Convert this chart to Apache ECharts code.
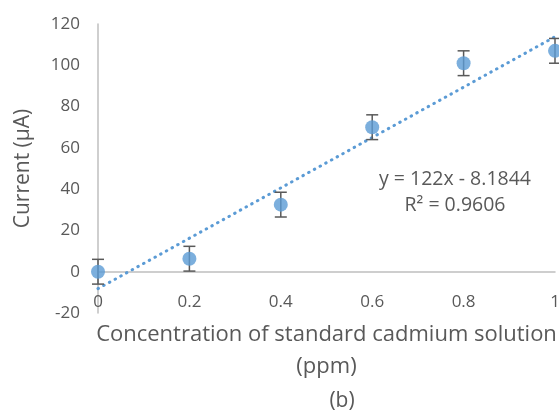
<!DOCTYPE html>
<html>
<head>
<meta charset="utf-8">
<script src="https://cdn.jsdelivr.net/npm/echarts@6/dist/echarts.min.js"></script>
<style>
  html, body { margin: 0; padding: 0; background: #fff; }
  #chart { width: 559px; height: 411px; }
</style>
</head>
<body>
<div id="chart"></div>
<script>
// data
const concentration = [0, 0.2, 0.4, 0.6, 0.8, 1];
const current = [0, 6.3, 32.5, 70, 101, 107];
const errorSize = [6, 6, 6, 6, 6, 6];
const trendSlope = 122;
const trendIntercept = -8.1844;
const trendRange = [0, 1];
const xTicks = [0, 0.2, 0.4, 0.6, 0.8, 1];
const yTicks = [-20, 0, 20, 40, 60, 80, 100, 120];

const textColor = '#595959';
const blue = '#5B9BD5';
const font = 'Open Sans';

const points = concentration.map((x, i) => [x, current[i]]);
const errors = concentration.map((x, i) => [x, current[i] - errorSize[i], current[i] + errorSize[i]]);
const trend = trendRange.map(x => [x, trendSlope * x + trendIntercept]);

const chart = echarts.init(document.getElementById('chart'));
chart.setOption({
  animation: false,
  textStyle: { fontFamily: font },
  grid: { left: 98, right: 4, top: 24, bottom: 98, containLabel: false, outerBoundsMode: 'none' },
  title: {
    text: '(b)',
    left: 337,
    top: 386,
    textAlign: 'center',
    textStyle: { fontFamily: font, fontSize: 21, fontWeight: 'normal', color: textColor }
  },
  graphic: [{
    type: 'text',
    x: 455,
    y: 166,
    style: {
      text: 'y = 122x - 8.1844\nR² = 0.9606',
      align: 'center',
      fontFamily: font,
      fontSize: 19.5,
      lineHeight: 26,
      fill: textColor
    }
  }],
  xAxis: {
    type: 'value',
    min: 0,
    max: 1,
    interval: 0.2,
    name: 'Concentration of standard cadmium solution\n(ppm)',
    nameLocation: 'middle',
    nameGap: 6,
    nameTextStyle: { fontFamily: font, fontSize: 22, color: textColor, lineHeight: 32 },
    axisLine: { onZero: true, lineStyle: { color: '#BFBFBF', width: 1.5 } },
    axisTick: { show: false },
    splitLine: { show: false },
    axisLabel: {
      margin: -19,
      fontSize: 17,
      color: textColor,
      hideOverlap: false,
      formatter: v => xTicks.includes(+v.toFixed(1)) ? String(+v.toFixed(1)) : ''
    }
  },
  yAxis: {
    type: 'value',
    min: yTicks[0],
    max: yTicks[yTicks.length - 1],
    interval: 20,
    name: 'Current (μA)',
    nameLocation: 'middle',
    nameGap: 64,
    nameTextStyle: { fontFamily: font, fontSize: 21, color: textColor },
    axisLine: { show: true, onZero: false, lineStyle: { color: '#BFBFBF', width: 1.5 } },
    axisTick: { show: false },
    splitLine: { show: false },
    axisLabel: { margin: 18, fontSize: 17, color: textColor }
  },
  series: [
    {
      type: 'line',
      data: trend,
      symbol: 'none',
      lineStyle: { color: blue, width: 3, type: [0.5, 6], cap: 'round' },
      z: 2
    },
    {
      type: 'custom',
      data: errors,
      renderItem: function (params, api) {
        const x = api.value(0);
        const lo = api.coord([x, api.value(1)]);
        const hi = api.coord([x, api.value(2)]);
        const cap = 6;
        const style = { stroke: textColor, lineWidth: 1.5 };
        return {
          type: 'group',
          children: [
            { type: 'line', shape: { x1: lo[0], y1: lo[1], x2: hi[0], y2: hi[1] }, style: style },
            { type: 'line', shape: { x1: hi[0] - cap, y1: hi[1], x2: hi[0] + cap, y2: hi[1] }, style: style },
            { type: 'line', shape: { x1: lo[0] - cap, y1: lo[1], x2: lo[0] + cap, y2: lo[1] }, style: style }
          ]
        };
      },
      z: 3
    },
    {
      type: 'scatter',
      data: points,
      symbol: 'circle',
      symbolSize: 14,
      itemStyle: { color: blue },
      z: 4
    }
  ]
});
</script>
</body>
</html>
